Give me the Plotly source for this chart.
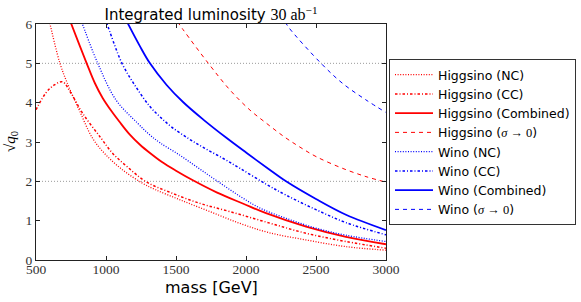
import plotly.graph_objects as go

# ---- data ----
higgsino_nc_x = [590, 600, 671, 729, 809, 905, 1000, 1119, 1262, 1352, 1529, 1743, 1957, 2159, 2429, 2714, 3000]
higgsino_nc_y = [6.15, 6.0, 5.0, 4.45, 3.81, 3.09, 2.67, 2.29, 1.95, 1.79, 1.53, 1.23, 0.93, 0.70, 0.51, 0.34, 0.25]

higgsino_cc_x = [500, 571, 631, 690, 750, 833, 964, 1048, 1155, 1286, 1457, 1671, 1886, 2148, 2429, 2714, 3000]
higgsino_cc_y = [3.82, 4.25, 4.45, 4.53, 4.24, 3.73, 3.10, 2.71, 2.36, 1.99, 1.72, 1.44, 1.23, 0.96, 0.68, 0.47, 0.30]

higgsino_comb_x = [735, 750, 862, 920, 976, 1040, 1095, 1167, 1243, 1314, 1400, 1500, 1624, 1790, 1981, 2143, 2429, 2714, 3000]
higgsino_comb_y = [6.16, 6.02, 5.0, 4.5, 4.12, 3.78, 3.52, 3.20, 2.93, 2.72, 2.49, 2.27, 2.02, 1.72, 1.43, 1.19, 0.85, 0.59, 0.40]

higgsino_s0_x = [1510, 1552, 1731, 1886, 2029, 2148, 2274, 2381, 2500, 2690, 2857, 3000]
higgsino_s0_y = [6.06, 5.85, 5.0, 4.32, 3.81, 3.47, 3.13, 2.88, 2.63, 2.33, 2.12, 1.98]

wino_nc_x = [820, 829, 941, 1071, 1228, 1310, 1386, 1529, 1671, 1814, 1957, 2100, 2286, 2500, 2714, 3000]
wino_nc_y = [6.1, 6.02, 5.0, 4.07, 3.47, 3.19, 2.98, 2.66, 2.31, 1.96, 1.62, 1.32, 1.06, 0.81, 0.63, 0.47]

wino_cc_x = [995, 1005, 1114, 1214, 1314, 1386, 1469, 1588, 1700, 1838, 1957, 2148, 2286, 2500, 2714, 3000]
wino_cc_y = [6.1, 6.02, 5.0, 4.4, 3.9, 3.64, 3.38, 3.09, 2.85, 2.58, 2.33, 1.92, 1.65, 1.28, 0.95, 0.64]

wino_comb_x = [1145, 1155, 1240, 1314, 1433, 1552, 1695, 1862, 2005, 2159, 2286, 2500, 2714, 3000]
wino_comb_y = [6.09, 6.02, 5.45, 5.0, 4.45, 4.01, 3.57, 3.10, 2.72, 2.32, 2.0, 1.55, 1.15, 0.76]

wino_s0_x = [2280, 2310, 2536, 2690, 2857, 3000]
wino_s0_y = [6.05, 5.89, 5.0, 4.49, 4.07, 3.75]

ref_lines_y = [2, 5]
x_ticks = [500, 1000, 1500, 2000, 2500, 3000]
y_ticks = [0, 1, 2, 3, 4, 5, 6]

SERIF = "Liberation Serif"
SANS = "DejaVu Sans"
sig = "<span style='font-family:Liberation Serif'><i>σ</i> → 0</span>"

series = [
    ("Higgsino (NC)", higgsino_nc_x, higgsino_nc_y, "red", 1.3, "1px,1.6px"),
    ("Higgsino (CC)", higgsino_cc_x, higgsino_cc_y, "red", 1.5, "2.5px,2px,1px,2px"),
    ("Higgsino (Combined)", higgsino_comb_x, higgsino_comb_y, "red", 1.8, "solid"),
    ("Higgsino (" + sig + ")", higgsino_s0_x, higgsino_s0_y, "red", 1, "4px,4px"),
    ("Wino (NC)", wino_nc_x, wino_nc_y, "blue", 1.3, "1px,1.6px"),
    ("Wino (CC)", wino_cc_x, wino_cc_y, "blue", 1.5, "2.5px,2px,1px,2px"),
    ("Wino (Combined)", wino_comb_x, wino_comb_y, "blue", 1.8, "solid"),
    ("Wino (" + sig + ")", wino_s0_x, wino_s0_y, "blue", 1, "4px,4px"),
]

fig = go.Figure()
for i, (name, xs, ys, col, lw, dash) in enumerate(series):
    fig.add_trace(go.Scatter(
        x=xs, y=ys, name=name, mode="lines", legendgroup=f"g{i}",
        line=dict(color=col, width=lw, dash=dash, shape="spline", smoothing=1.0),
    ))

for yv in ref_lines_y:
    fig.add_shape(type="line", xref="paper", x0=0, x1=1, yref="y", y0=yv, y1=yv,
                  line=dict(color="#9a9a9a", width=1, dash="1px,2px"), layer="below")

W, H = 581, 302
L, R, T, B = 36, 386, 24, 260

axis_common = dict(
    showline=True, linecolor="#222", linewidth=1, mirror="ticks",
    ticks="inside", ticklen=4, tickcolor="#222", showgrid=False, zeroline=False,
    tickfont=dict(family=SERIF, size=13.5, color="#333"),
)

fig.update_layout(
    width=W, height=H,
    margin=dict(l=L, r=W - R, t=T, b=H - B, autoexpand=False),
    paper_bgcolor="white", plot_bgcolor="white",
    xaxis=dict(range=[500, 3000], tickvals=x_ticks, ticklabelstandoff=-3, **axis_common),
    yaxis=dict(range=[0, 6], tickvals=y_ticks, **axis_common),
    title=dict(
        text="Integrated luminosity <span style='font-family:Liberation Serif;font-size:16px'>30 ab<sup>−1</sup></span>",
        x=0.5, xref="paper", xanchor="center",
        y=1 - 15 / H, yref="container", yanchor="middle",
        font=dict(family=SANS, size=15, color="black"),
    ),
    legend=dict(
        x=(389 - L) / (R - L), y=(B - 59) / (B - T), xanchor="left", yanchor="top",
        bordercolor="#333", borderwidth=1, bgcolor="white",
        font=dict(family=SANS, size=12.5, color="black"),
        tracegroupgap=2.4, traceorder="normal", itemwidth=38,
    ),
    annotations=[
        dict(text="mass [GeV]", xref="paper", yref="paper", x=0.5, y=-(287 - B) / (B - T),
             xanchor="center", yanchor="middle", showarrow=False,
             font=dict(family=SANS, size=16, color="black")),
        dict(text="√<i>q</i><sub>0</sub>", xref="paper", yref="paper",
             x=-(L - 11) / (R - L), y=0.5, xanchor="center", yanchor="middle",
             textangle=-90, showarrow=False,
             font=dict(family=SERIF, size=15, color="black")),
    ],
)

fig.write_html("out.html", config={"displayModeBar": False},
               post_script="document.body.style.margin='0';document.body.style.overflow='hidden';")
